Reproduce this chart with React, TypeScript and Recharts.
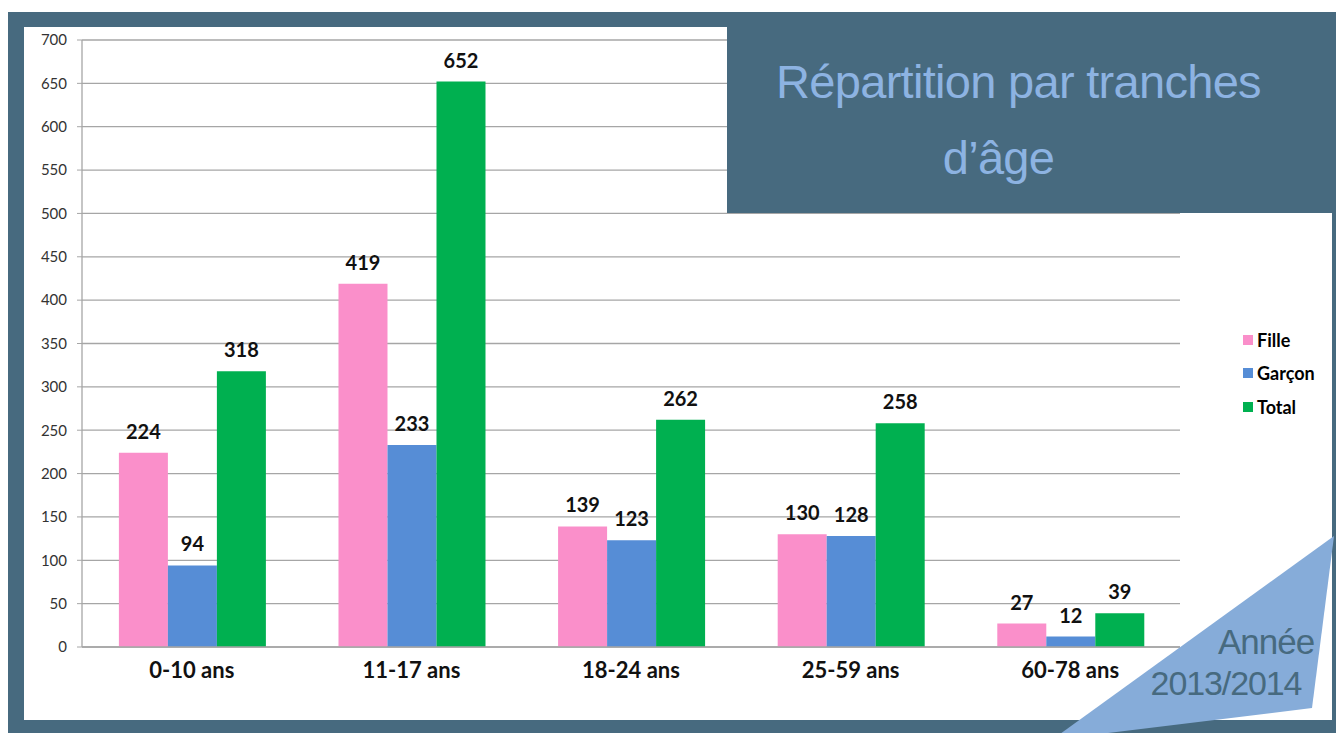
import React from 'react';
import { BarChart, Bar, XAxis, YAxis, CartesianGrid, Legend, LabelList } from 'recharts';

const categories = ['0-10 ans', '11-17 ans', '18-24 ans', '25-59 ans', '60-78 ans'];
const fille = [224, 419, 139, 130, 27];
const garcon = [94, 233, 123, 128, 12];
const total = [318, 652, 262, 258, 39];
const yTicks = [0, 50, 100, 150, 200, 250, 300, 350, 400, 450, 500, 550, 600, 650, 700];

const SLATE = '#476a7f';
const FONT = 'Lato, "Open Sans", sans-serif';
const HELV = '"Liberation Sans", Arial, sans-serif';

const series = [
  { key: 'fille', name: 'Fille', color: '#fa8fca' },
  { key: 'garcon', name: 'Garçon', color: '#568dd6' },
  { key: 'total', name: 'Total', color: '#00b050' },
];

const LegendBox = () => (
  <div style={{ fontFamily: FONT, fontWeight: 700, fontSize: 18, color: '#000' }}>
    {series.map(s => (
      <div key={s.key} style={{ display: 'flex', alignItems: 'center', height: 33.5 }}>
        <span style={{ width: 10, height: 10, background: s.color, marginRight: 4, display: 'inline-block' }} />
        {s.name}
      </div>
    ))}
  </div>
);

export default function App() {
  const chartData = categories.map((c, i) => ({
    name: c,
    fille: fille[i],
    garcon: garcon[i],
    total: total[i],
  }));

  return (
    <div style={{ position: 'absolute', left: 0, top: 0, width: 1336, height: 733, overflow: 'hidden', background: '#fff' }}>
      {/* slate frame */}
      <div style={{ position: 'absolute', left: 8, top: 12, width: 1328, height: 721, background: SLATE }} />
      {/* white panel */}
      <div style={{ position: 'absolute', left: 24, top: 27, width: 1308, height: 693, background: '#fff' }} />

      <div style={{ position: 'absolute', left: 24, top: 27 }}>
        <BarChart
          width={1308}
          height={693}
          data={chartData}
          margin={{ top: 13, right: 62, left: 0, bottom: 33 }}
          barCategoryGap="16.8%"
          barGap={0}
        >
          <CartesianGrid vertical={false} stroke="#a6a6a6" strokeWidth={1.3} />
          <XAxis
            dataKey="name"
            tickLine={false}
            axisLine={{ stroke: '#a6a6a6', strokeWidth: 1.3 }}
            tick={{ fontSize: 22, fontWeight: 700, fill: '#111', fontFamily: FONT }}
            tickMargin={9}
            height={40}
          />
          <YAxis
            domain={[0, 700]}
            ticks={yTicks}
            interval={0}
            width={58}
            tickSize={5}
            tickMargin={10}
            tickLine={{ stroke: '#a6a6a6' }}
            axisLine={{ stroke: '#a6a6a6', strokeWidth: 1.3 }}
            tick={{ fontSize: 15, fill: '#333', fontFamily: FONT }}
          />
          <Legend
            layout="vertical"
            align="right"
            verticalAlign="middle"
            content={<LegendBox />}
            wrapperStyle={{ position: 'absolute', left: 1219, top: 296, width: 90 }}
          />
          {series.map(s => (
            <Bar key={s.key} dataKey={s.key} name={s.name} fill={s.color} isAnimationActive={false}>
              <LabelList
                dataKey={s.key}
                position="top"
                offset={14}
                style={{ fontSize: 20, fontWeight: 700, fill: '#111', fontFamily: FONT }}
              />
            </Bar>
          ))}
        </BarChart>
      </div>

      {/* title box */}
      <div
        style={{
          position: 'absolute', left: 727, top: 12, width: 609, height: 201, background: SLATE,
          color: '#8db3e2', fontFamily: HELV, fontSize: 47, textAlign: 'center', letterSpacing: -0.7,
          whiteSpace: 'nowrap',
        }}
      >
        <div style={{ position: 'absolute', left: 0, width: 583, top: 46, lineHeight: '47px' }}>Répartition par tranches</div>
        <div style={{ position: 'absolute', left: 0, width: 543, top: 122, lineHeight: '47px' }}>d’âge</div>
      </div>

      {/* corner triangle */}
      <svg width={1336} height={733} style={{ position: 'absolute', left: 0, top: 0, pointerEvents: 'none' }}>
        <polygon points="1334,536 1312,708 1100,734 1060,734" fill="#86acd9" />
        <text x={1266} y={654} textAnchor="middle" fill={SLATE} fontSize={35} letterSpacing={-1} fontFamily={HELV}>Année</text>
        <text x={1226} y={695} textAnchor="middle" fill={SLATE} fontSize={34} letterSpacing={-1.1} fontFamily={HELV}>2013/2014</text>
      </svg>
    </div>
  );
}
